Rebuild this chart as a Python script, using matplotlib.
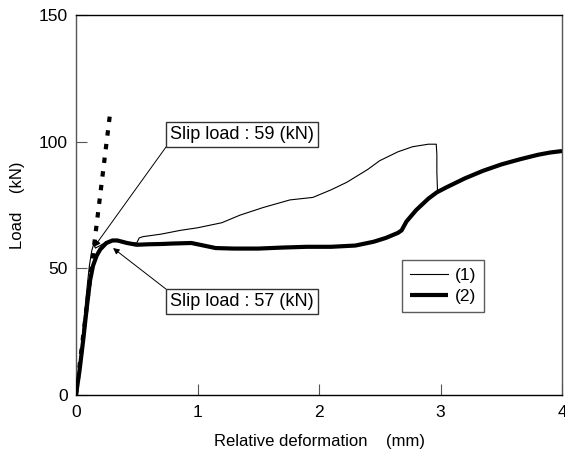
import matplotlib
matplotlib.use("Agg")
import matplotlib.pyplot as plt

plt.rcParams['font.family'] = ['Liberation Sans', 'DejaVu Sans']

# Series (1): thin line
x1 = [0, 0.03, 0.06, 0.09, 0.11, 0.13, 0.145, 0.16, 0.2, 0.25, 0.3, 0.4, 0.5,
      0.52, 0.55, 0.7, 0.86, 1.0, 1.2, 1.35, 1.54, 1.76, 1.95, 2.1, 2.23, 2.4,
      2.5, 2.65, 2.77, 2.9, 2.965, 2.97, 2.97, 2.975]
y1 = [0, 12, 27, 42, 51, 57, 59.5, 58, 59, 60.5, 61, 60, 60,
      62, 62.5, 63.5, 65, 66, 68, 71, 74, 77, 78, 81, 84, 89,
      92.5, 96, 98, 99, 99, 95, 88, 81]

# Series (2): thick line
x2 = [0, 0.03, 0.06, 0.09, 0.115, 0.14, 0.17, 0.2, 0.25, 0.3, 0.34, 0.42, 0.5,
      0.6, 0.7, 0.8, 0.95, 1.05, 1.15, 1.3, 1.5, 1.7, 1.9, 2.1, 2.3, 2.45, 2.55,
      2.65, 2.68, 2.72, 2.8, 2.9, 2.97, 3.05, 3.2, 3.35, 3.5, 3.65, 3.8, 3.9, 4.0]
y2 = [0, 10, 22, 35, 45, 51, 55, 57.5, 60, 61, 61, 60, 59.3,
      59.5, 59.6, 59.8, 60, 59, 58, 57.8, 57.8, 58.2, 58.5, 58.5, 59, 60.5, 62,
      64, 65, 68.5, 73, 77.5, 80, 82, 85.5, 88.5, 91, 93, 94.8, 95.7, 96.3]

# Initial stiffness (dashed)
x_init = [0, 0.28]
y_init = [0, 111]

series_labels = ['(1)', '(2)']
slip_texts = ['Slip load : 59 (kN)', 'Slip load : 57 (kN)']
slip_points = [(0.15, 58.5), (0.305, 58)]
box_corners = [(0.741, 97.9), (0.741, 41.8)]

x_ticks = [0, 1, 2, 3, 4]
y_ticks = [0, 50, 100, 150]

fig = plt.figure(figsize=(5.65, 4.61), dpi=100)
ax = fig.add_axes([76/565, 1-395/461, 486/565, 380/461])

ax.plot(x1, y1, color='black', lw=0.8, label=series_labels[0], zorder=3)
ax.plot(x2, y2, color='black', lw=3.0, label=series_labels[1], zorder=4,
        solid_capstyle='butt')
ax.plot(x_init, y_init, color='black', lw=3.0, linestyle=(0, (1.3, 2.0)), zorder=2)

ax.set_xlim(0, 4)
ax.set_ylim(0, 150)
ax.set_xticks(x_ticks)
ax.set_yticks(y_ticks)
ax.tick_params(direction='in', length=8, width=0.8, labelsize=12.5, color='#555555')
ax.tick_params(axis='x', pad=7)
ax.tick_params(axis='y', pad=6)
for s in ax.spines.values():
    s.set_linewidth(1.0)
    s.set_color('black')
ax.spines['left'].set_color('#555555')
ax.spines['right'].set_color('#555555')

ax.set_xlabel('Relative deformation    (mm)', fontsize=12, labelpad=10)
ax.set_ylabel('Load    (kN)', fontsize=12, labelpad=10)

fs_box = 13
pad_frac = 0.22
pad_pt = pad_frac * fs_box
for txt, pt, corner, va in zip(slip_texts, slip_points, box_corners, ['bottom', 'top']):
    ax.annotate('', xy=pt, xytext=corner,
                arrowprops=dict(arrowstyle='-|>', color='black', lw=0.7,
                                mutation_scale=9, shrinkA=0, shrinkB=0), zorder=5)
    off = pad_pt if va == 'bottom' else -pad_pt
    ax.annotate(txt, xy=corner, xytext=(pad_pt, off), textcoords='offset points',
                ha='left', va=va, fontsize=fs_box, zorder=6,
                bbox=dict(boxstyle=f'square,pad={pad_frac}', fc='white', ec='#333333', lw=1.0))

leg = ax.legend(loc='upper left', bbox_to_anchor=((402-76)/486, (395-260)/380),
                fontsize=12.5, frameon=True, fancybox=False, handlelength=2.2,
                handletextpad=0.4, borderpad=0.45, labelspacing=0.35, borderaxespad=0)
leg.get_frame().set_edgecolor('#333333')
leg.get_frame().set_linewidth(1.0)

fig.savefig('out.png', dpi=100)
